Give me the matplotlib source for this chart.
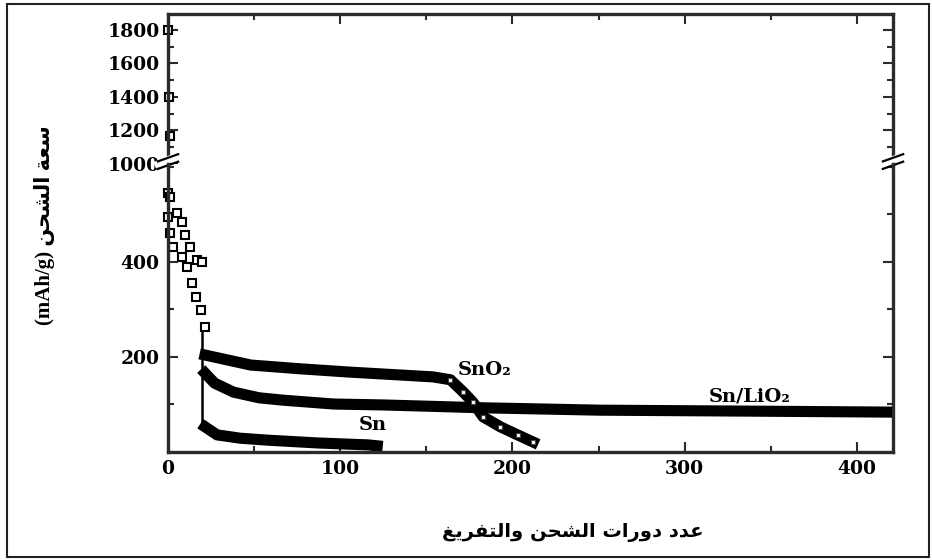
import matplotlib
matplotlib.use("Agg")
import matplotlib.pyplot as plt
from matplotlib.patches import Rectangle
from matplotlib.ticker import MultipleLocator

# ---- values ----
# first cycles, upper part of the broken axis
first_x = [0, 0.5, 1]
first_y = [1800, 1400, 1170]

# two strands of open squares in the first ~20 cycles
early_a_x = [0, 1, 5, 8, 10, 13, 17, 20]
early_a_y = [545, 537, 503, 484, 457, 432, 404, 400]
early_b_x = [0, 1, 3, 8, 11, 14, 16, 19, 21.5]
early_b_y = [495, 461, 432, 411, 390, 356, 326, 299, 263]

# vertical drop around cycle 20
drop_x = [20, 20]
drop_y = [265, 50]

sno2_x = [21.5, 48, 77, 106, 135, 154, 164, 171.5, 177, 183, 193, 203, 212]
sno2_y = [204, 183, 175, 168, 162, 158, 152, 126, 105, 74, 53, 36, 21]

snlio2_x = [21.5, 27, 38, 53, 67, 96, 125, 183, 251, 338, 418]
snlio2_y = [166, 145, 126, 114, 109, 101, 99, 93, 88, 86, 84]

sn_x = [21.5, 28.5, 42, 57.5, 87, 116, 121.5]
sn_y = [53, 36, 29, 25, 19, 15, 13]

x_ticks = [0, 100, 200, 300, 400]
y_ticks_low = [200, 400]
y_ticks_high = [1000, 1200, 1400, 1600, 1800]

x_title = "عدد دورات الشحن والتفريغ"
y_title_ar = "سعة الشحن"
y_title_unit = "(mAh/g)"

# ---- tiny arabic shaper (presentation forms: iso, fin, ini, med) ----
FORMS = {
    "ا": ("\ufe8d", "\ufe8e", None, None),
    "ت": ("\ufe95", "\ufe96", "\ufe97", "\ufe98"),
    "ة": ("\ufe93", "\ufe94", None, None),
    "ح": ("\ufea1", "\ufea2", "\ufea3", "\ufea4"),
    "د": ("\ufea9", "\ufeaa", None, None),
    "ر": ("\ufead", "\ufeae", None, None),
    "س": ("\ufeb1", "\ufeb2", "\ufeb3", "\ufeb4"),
    "ش": ("\ufeb5", "\ufeb6", "\ufeb7", "\ufeb8"),
    "ع": ("\ufec9", "\ufeca", "\ufecb", "\ufecc"),
    "غ": ("\ufecd", "\ufece", "\ufecf", "\ufed0"),
    "ف": ("\ufed1", "\ufed2", "\ufed3", "\ufed4"),
    "ل": ("\ufedd", "\ufede", "\ufedf", "\ufee0"),
    "ن": ("\ufee5", "\ufee6", "\ufee7", "\ufee8"),
    "و": ("\ufeed", "\ufeee", None, None),
    "ي": ("\ufef1", "\ufef2", "\ufef3", "\ufef4"),
}


def shape(text):
    out = []
    for i, ch in enumerate(text):
        if ch not in FORMS:
            out.append(ch)
            continue
        prev = text[i - 1] if i > 0 else ""
        nxt = text[i + 1] if i + 1 < len(text) else ""
        j_prev = prev in FORMS and FORMS[prev][2] is not None
        j_next = nxt in FORMS and FORMS[ch][2] is not None
        iso, fin, ini, med = FORMS[ch]
        if j_prev and j_next:
            out.append(med)
        elif j_prev:
            out.append(fin)
        elif j_next:
            out.append(ini)
        else:
            out.append(iso)
    return "".join(out)[::-1]   # visual order


W, H = 932, 560
fig = plt.figure(figsize=(W / 100, H / 100), dpi=100)


def box(l, t, r, b):
    return [l / W, 1 - b / H, (r - l) / W, (b - t) / H]


ax_top = fig.add_axes(box(168, 14, 893, 164))
ax = fig.add_axes(box(168, 164, 893, 452), sharex=ax_top)

num_font = ["DejaVu Serif"]
spine_c = "#2b2b2b"

for a in (ax_top, ax):
    for s in a.spines.values():
        s.set_linewidth(2.4)
        s.set_color(spine_c)
    a.tick_params(which="both", direction="in", color=spine_c, width=1.5,
                  top=True, right=True)
    a.tick_params(which="major", length=7, pad=6)
    a.tick_params(which="minor", length=4)

ax_top.spines["bottom"].set_visible(False)
ax.spines["top"].set_visible(False)
ax_top.tick_params(which="both", bottom=False, labelbottom=False)
ax.tick_params(which="both", top=False)

ax.set_xlim(0, 421)
ax.set_ylim(0, 606)
ax_top.set_ylim(1000, 1895)

ax.set_xticks(x_ticks)
ax.xaxis.set_minor_locator(MultipleLocator(50))
ax.set_yticks(y_ticks_low)
ax.yaxis.set_minor_locator(MultipleLocator(100))
ax_top.set_yticks(y_ticks_high)
ax_top.yaxis.set_minor_locator(MultipleLocator(100))

for a in (ax_top, ax):
    for lab in a.get_xticklabels() + a.get_yticklabels():
        lab.set_family(num_font)
        lab.set_fontweight("bold")
        lab.set_fontsize(13.5)

# thick bands
band = dict(color="black", lw=8, solid_capstyle="projecting", solid_joinstyle="round")
ax.plot(sno2_x, sno2_y, **band)
ax.plot(snlio2_x, snlio2_y, **band)
ax.plot(sn_x, sn_y, **band)
ax.plot(drop_x, drop_y, color="black", lw=1.8)

# open squares
sq = dict(ls="none", marker="s", ms=6, mfc="white", mec="black", mew=1.5, clip_on=False)
ax.plot(early_a_x, early_a_y, **sq)
ax.plot(early_b_x, early_b_y, **sq)
ax_top.plot(first_x, first_y, **sq)
ax.plot(sno2_x[6:], sno2_y[6:], ls="none", marker="s", ms=3.5, mfc="white",
        mec="#444444", mew=0.8)

# labels on the curves
lab_kw = dict(fontsize=14, fontweight="bold", family=num_font, ha="center", va="center")
ax.text(184, 173, "SnO₂", **lab_kw)
ax.text(338, 116, "Sn/LiO₂", **lab_kw)
ax.text(119, 57, "Sn", **lab_kw)

# axis break marks on both spines
for xa in (0, 1):
    ax.plot([xa - 0.014, xa + 0.014], [1.0, 1.03], transform=ax.transAxes,
            color="white", lw=5, clip_on=False)
    for dy in (-0.012, 0.014):
        ax.plot([xa - 0.014, xa + 0.014], [0.995 + dy, 1.02 + dy],
                transform=ax.transAxes, color="black", lw=1.6, clip_on=False)

# axis titles
fig.text(573 / W, 1 - 532 / H, shape(x_title), ha="center", va="center",
         fontsize=14, fontweight="bold", family=["DejaVu Sans"])
fig.text(45 / W, 1 - 225 / H, y_title_unit + " " + shape(y_title_ar),
         rotation=90, ha="center", va="center", fontsize=15, fontweight="bold",
         family=["Liberation Serif", "DejaVu Sans"])

# outer frame
fig.add_artist(Rectangle((7 / W, 1 - 557 / H), (929 - 7) / W, (557 - 4) / H,
                         transform=fig.transFigure, fill=False, lw=1.5,
                         ec="#222222"))

fig.savefig("out.png", dpi=100)
